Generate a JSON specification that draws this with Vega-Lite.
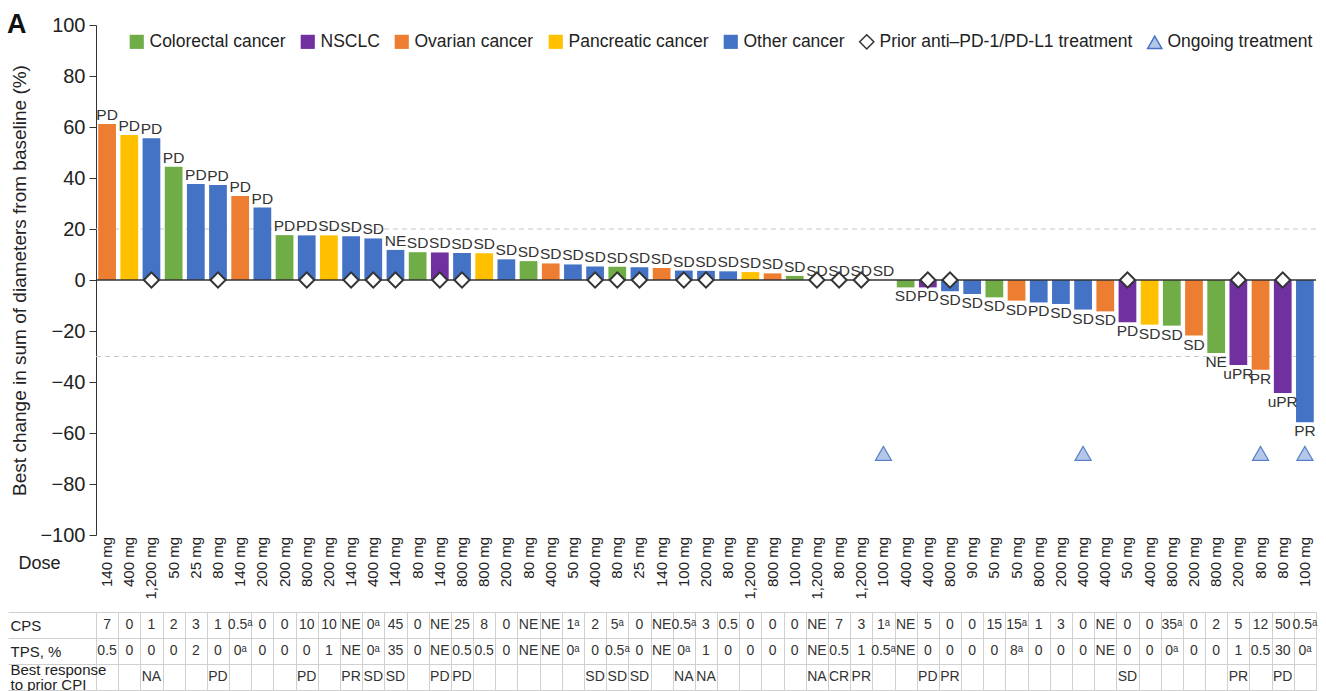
{
  "$schema": "https://vega.github.io/schema/vega-lite/v6.json",
  "padding": {"left": 7, "top": 11, "right": 4, "bottom": 0},
  "background": "white",
  "bounds": "flush",
  "spacing": 2,
  "title": {"text": "A", "anchor": "start", "frame": "bounds", "fontSize": 27, "fontWeight": "bold", "color": "#111", "offset": -24},
  "datasets": {
    "bars": [
      {"id": 1, "dose": "140 mg", "value": 61.2, "cancer": "Ovarian cancer", "resp": "PD", "prior": false, "ongoing": false, "CPS": "7", "TPS": "0.5", "CPI": ""},
      {"id": 2, "dose": "400 mg", "value": 56.9, "cancer": "Pancreatic cancer", "resp": "PD", "prior": false, "ongoing": false, "CPS": "0", "TPS": "0", "CPI": ""},
      {"id": 3, "dose": "1,200 mg", "value": 55.6, "cancer": "Other cancer", "resp": "PD", "prior": true, "ongoing": false, "CPS": "1", "TPS": "0", "CPI": "NA"},
      {"id": 4, "dose": "50 mg", "value": 44.4, "cancer": "Colorectal cancer", "resp": "PD", "prior": false, "ongoing": false, "CPS": "2", "TPS": "0", "CPI": ""},
      {"id": 5, "dose": "25 mg", "value": 37.6, "cancer": "Other cancer", "resp": "PD", "prior": false, "ongoing": false, "CPS": "3", "TPS": "2", "CPI": ""},
      {"id": 6, "dose": "80 mg", "value": 37.3, "cancer": "Other cancer", "resp": "PD", "prior": true, "ongoing": false, "CPS": "1", "TPS": "0", "CPI": "PD"},
      {"id": 7, "dose": "140 mg", "value": 32.9, "cancer": "Ovarian cancer", "resp": "PD", "prior": false, "ongoing": false, "CPS": "0.5ᵃ", "TPS": "0ᵃ", "CPI": ""},
      {"id": 8, "dose": "200 mg", "value": 28.4, "cancer": "Other cancer", "resp": "PD", "prior": false, "ongoing": false, "CPS": "0", "TPS": "0", "CPI": ""},
      {"id": 9, "dose": "200 mg", "value": 17.6, "cancer": "Colorectal cancer", "resp": "PD", "prior": false, "ongoing": false, "CPS": "0", "TPS": "0", "CPI": ""},
      {"id": 10, "dose": "800 mg", "value": 17.5, "cancer": "Other cancer", "resp": "PD", "prior": true, "ongoing": false, "CPS": "10", "TPS": "0", "CPI": "PD"},
      {"id": 11, "dose": "200 mg", "value": 17.5, "cancer": "Pancreatic cancer", "resp": "SD", "prior": false, "ongoing": false, "CPS": "10", "TPS": "1", "CPI": ""},
      {"id": 12, "dose": "140 mg", "value": 17.2, "cancer": "Other cancer", "resp": "SD", "prior": true, "ongoing": false, "CPS": "NE", "TPS": "NE", "CPI": "PR"},
      {"id": 13, "dose": "400 mg", "value": 16.3, "cancer": "Other cancer", "resp": "SD", "prior": true, "ongoing": false, "CPS": "0ᵃ", "TPS": "0ᵃ", "CPI": "SD"},
      {"id": 14, "dose": "140 mg", "value": 11.8, "cancer": "Other cancer", "resp": "NE", "prior": true, "ongoing": false, "CPS": "45", "TPS": "35", "CPI": "SD"},
      {"id": 15, "dose": "80 mg", "value": 10.9, "cancer": "Colorectal cancer", "resp": "SD", "prior": false, "ongoing": false, "CPS": "0", "TPS": "0", "CPI": ""},
      {"id": 16, "dose": "140 mg", "value": 10.8, "cancer": "NSCLC", "resp": "SD", "prior": true, "ongoing": false, "CPS": "NE", "TPS": "NE", "CPI": "PD"},
      {"id": 17, "dose": "800 mg", "value": 10.6, "cancer": "Other cancer", "resp": "SD", "prior": true, "ongoing": false, "CPS": "25", "TPS": "0.5", "CPI": "PD"},
      {"id": 18, "dose": "800 mg", "value": 10.5, "cancer": "Pancreatic cancer", "resp": "SD", "prior": false, "ongoing": false, "CPS": "8", "TPS": "0.5", "CPI": ""},
      {"id": 19, "dose": "200 mg", "value": 8.1, "cancer": "Other cancer", "resp": "SD", "prior": false, "ongoing": false, "CPS": "0", "TPS": "0", "CPI": ""},
      {"id": 20, "dose": "80 mg", "value": 7.4, "cancer": "Colorectal cancer", "resp": "SD", "prior": false, "ongoing": false, "CPS": "NE", "TPS": "NE", "CPI": ""},
      {"id": 21, "dose": "400 mg", "value": 6.5, "cancer": "Ovarian cancer", "resp": "SD", "prior": false, "ongoing": false, "CPS": "NE", "TPS": "NE", "CPI": ""},
      {"id": 22, "dose": "50 mg", "value": 6.1, "cancer": "Other cancer", "resp": "SD", "prior": false, "ongoing": false, "CPS": "1ᵃ", "TPS": "0ᵃ", "CPI": ""},
      {"id": 23, "dose": "400 mg", "value": 5.3, "cancer": "Other cancer", "resp": "SD", "prior": true, "ongoing": false, "CPS": "2", "TPS": "0", "CPI": "SD"},
      {"id": 24, "dose": "80 mg", "value": 5.2, "cancer": "Colorectal cancer", "resp": "SD", "prior": true, "ongoing": false, "CPS": "5ᵃ", "TPS": "0.5ᵃ", "CPI": "SD"},
      {"id": 25, "dose": "25 mg", "value": 5.0, "cancer": "Other cancer", "resp": "SD", "prior": true, "ongoing": false, "CPS": "0", "TPS": "0", "CPI": "SD"},
      {"id": 26, "dose": "140 mg", "value": 4.7, "cancer": "Ovarian cancer", "resp": "SD", "prior": false, "ongoing": false, "CPS": "NE", "TPS": "NE", "CPI": ""},
      {"id": 27, "dose": "100 mg", "value": 3.7, "cancer": "Other cancer", "resp": "SD", "prior": true, "ongoing": false, "CPS": "0.5ᵃ", "TPS": "0ᵃ", "CPI": "NA"},
      {"id": 28, "dose": "200 mg", "value": 3.6, "cancer": "Other cancer", "resp": "SD", "prior": true, "ongoing": false, "CPS": "3", "TPS": "1", "CPI": "NA"},
      {"id": 29, "dose": "80 mg", "value": 3.4, "cancer": "Other cancer", "resp": "SD", "prior": false, "ongoing": false, "CPS": "0.5", "TPS": "0", "CPI": ""},
      {"id": 30, "dose": "1,200 mg", "value": 3.1, "cancer": "Pancreatic cancer", "resp": "SD", "prior": false, "ongoing": false, "CPS": "0", "TPS": "0", "CPI": ""},
      {"id": 31, "dose": "800 mg", "value": 2.6, "cancer": "Ovarian cancer", "resp": "SD", "prior": false, "ongoing": false, "CPS": "0", "TPS": "0", "CPI": ""},
      {"id": 32, "dose": "100 mg", "value": 1.6, "cancer": "Colorectal cancer", "resp": "SD", "prior": false, "ongoing": false, "CPS": "0", "TPS": "0", "CPI": ""},
      {"id": 33, "dose": "1,200 mg", "value": 0, "cancer": "Other cancer", "resp": "SD", "prior": true, "ongoing": false, "CPS": "NE", "TPS": "NE", "CPI": "NA"},
      {"id": 34, "dose": "80 mg", "value": 0, "cancer": "Other cancer", "resp": "SD", "prior": true, "ongoing": false, "CPS": "7", "TPS": "0.5", "CPI": "CR"},
      {"id": 35, "dose": "1,200 mg", "value": 0, "cancer": "Other cancer", "resp": "SD", "prior": true, "ongoing": false, "CPS": "3", "TPS": "1", "CPI": "PR"},
      {"id": 36, "dose": "100 mg", "value": 0, "cancer": "Other cancer", "resp": "SD", "prior": false, "ongoing": true, "CPS": "1ᵃ", "TPS": "0.5ᵃ", "CPI": ""},
      {"id": 37, "dose": "400 mg", "value": -2.9, "cancer": "Colorectal cancer", "resp": "SD", "prior": false, "ongoing": false, "CPS": "NE", "TPS": "NE", "CPI": ""},
      {"id": 38, "dose": "400 mg", "value": -2.9, "cancer": "NSCLC", "resp": "PD", "prior": true, "ongoing": false, "CPS": "5", "TPS": "0", "CPI": "PD"},
      {"id": 39, "dose": "800 mg", "value": -4.4, "cancer": "Other cancer", "resp": "SD", "prior": true, "ongoing": false, "CPS": "0", "TPS": "0", "CPI": "PR"},
      {"id": 40, "dose": "90 mg", "value": -5.5, "cancer": "Other cancer", "resp": "SD", "prior": false, "ongoing": false, "CPS": "0", "TPS": "0", "CPI": ""},
      {"id": 41, "dose": "50 mg", "value": -6.8, "cancer": "Colorectal cancer", "resp": "SD", "prior": false, "ongoing": false, "CPS": "15", "TPS": "0", "CPI": ""},
      {"id": 42, "dose": "50 mg", "value": -8.1, "cancer": "Ovarian cancer", "resp": "SD", "prior": false, "ongoing": false, "CPS": "15ᵃ", "TPS": "8ᵃ", "CPI": ""},
      {"id": 43, "dose": "800 mg", "value": -8.8, "cancer": "Other cancer", "resp": "PD", "prior": false, "ongoing": false, "CPS": "1", "TPS": "0", "CPI": ""},
      {"id": 44, "dose": "200 mg", "value": -9.4, "cancer": "Other cancer", "resp": "SD", "prior": false, "ongoing": false, "CPS": "3", "TPS": "0", "CPI": ""},
      {"id": 45, "dose": "400 mg", "value": -11.6, "cancer": "Other cancer", "resp": "SD", "prior": false, "ongoing": true, "CPS": "0", "TPS": "0", "CPI": ""},
      {"id": 46, "dose": "400 mg", "value": -12.3, "cancer": "Ovarian cancer", "resp": "SD", "prior": false, "ongoing": false, "CPS": "NE", "TPS": "NE", "CPI": ""},
      {"id": 47, "dose": "50 mg", "value": -16.6, "cancer": "NSCLC", "resp": "PD", "prior": true, "ongoing": false, "CPS": "0", "TPS": "0", "CPI": "SD"},
      {"id": 48, "dose": "400 mg", "value": -17.5, "cancer": "Pancreatic cancer", "resp": "SD", "prior": false, "ongoing": false, "CPS": "0", "TPS": "0", "CPI": ""},
      {"id": 49, "dose": "800 mg", "value": -17.9, "cancer": "Colorectal cancer", "resp": "SD", "prior": false, "ongoing": false, "CPS": "35ᵃ", "TPS": "0ᵃ", "CPI": ""},
      {"id": 50, "dose": "200 mg", "value": -21.8, "cancer": "Ovarian cancer", "resp": "SD", "prior": false, "ongoing": false, "CPS": "0", "TPS": "0", "CPI": ""},
      {"id": 51, "dose": "800 mg", "value": -28.6, "cancer": "Colorectal cancer", "resp": "NE", "prior": false, "ongoing": false, "CPS": "2", "TPS": "0", "CPI": ""},
      {"id": 52, "dose": "200 mg", "value": -33.3, "cancer": "NSCLC", "resp": "uPR", "prior": true, "ongoing": false, "CPS": "5", "TPS": "1", "CPI": "PR"},
      {"id": 53, "dose": "80 mg", "value": -35.2, "cancer": "Ovarian cancer", "resp": "PR", "prior": false, "ongoing": true, "CPS": "12", "TPS": "0.5", "CPI": ""},
      {"id": 54, "dose": "80 mg", "value": -44.3, "cancer": "NSCLC", "resp": "uPR", "prior": true, "ongoing": false, "CPS": "50", "TPS": "30", "CPI": "PD"},
      {"id": 55, "dose": "100 mg", "value": -55.8, "cancer": "Other cancer", "resp": "PR", "prior": false, "ongoing": true, "CPS": "0.5ᵃ", "TPS": "0ᵃ", "CPI": ""}
    ]
  },
  "vconcat": [
    {
      "width": 1220,
      "height": 510,
      "data": {"name": "bars"},
      "layer": [
        {
          "data": {"values": [{"value": 20}, {"value": -30}]},
          "mark": {"type": "rule", "color": "#c8c8c8", "strokeDash": [5, 4], "strokeWidth": 1},
          "encoding": {"y": {"field": "value", "type": "quantitative"}}
        },
        {
          "mark": {"type": "bar"},
          "encoding": {
            "x": {"field": "id", "type": "ordinal", "scale": {"paddingInner": 0.2, "paddingOuter": 0.1}, "axis": null},
            "y": {
              "field": "value", "type": "quantitative",
              "scale": {"domain": [-100, 100], "nice": false},
              "axis": {
                "title": "Best change in sum of diameters from baseline (%)",
                "values": [-100, -90, -80, -70, -60, -50, -40, -30, -20, -10, 0, 10, 20, 30, 40, 50, 60, 70, 80, 90, 100],
                "labelExpr": "datum.value % 20 == 0 ? datum.label : ''",
                "labelFontSize": 20, "labelColor": "#222", "labelPadding": 4,
                "tickSize": 7, "tickColor": "#333", "domainColor": "#333", "grid": false,
                "titleFontSize": 19, "titleFontWeight": "normal", "titleColor": "#222", "titlePadding": 10
              }
            },
            "fill": {
              "field": "cancer", "type": "nominal",
              "scale": {
                "domain": ["Colorectal cancer", "NSCLC", "Ovarian cancer", "Pancreatic cancer", "Other cancer", "Prior anti–PD-1/PD-L1 treatment", "Ongoing treatment"],
                "range": ["#70ad47", "#7030a0", "#ed7d31", "#ffc000", "#4472c4", "#ffffff", "#b4c7e7"]
              },
              "legend": {
                "orient": "none", "legendX": 32, "legendY": 8, "direction": "horizontal", "title": null,
                "labelFontSize": 17.5, "labelColor": "#222", "labelLimit": 500, "symbolSize": 200, "columnPadding": 11, "labelOffset": 4, "padding": 0,
                "symbolType": "square", "symbolOpacity": 1,
                "encode": {
                  "symbols": {
                    "update": {
                      "shape": {"signal": "indexof(datum.value, 'Prior') == 0 ? 'diamond' : datum.value == 'Ongoing treatment' ? 'triangle-up' : 'square'"},
                      "stroke": {"signal": "indexof(datum.value, 'Prior') == 0 ? '#333333' : datum.value == 'Ongoing treatment' ? '#4472c4' : 'transparent'"},
                      "strokeWidth": {"value": 1.5}
                    }
                  }
                }
              }
            }
          }
        },
        {
          "data": {"values": [{"value": 0}]},
          "mark": {"type": "rule", "color": "#333", "strokeWidth": 1.5},
          "encoding": {"y": {"field": "value", "type": "quantitative"}}
        },
        {
          "transform": [{"filter": "datum.value >= 0"}],
          "mark": {"type": "text", "baseline": "bottom", "dy": -1, "fontSize": 15.5, "color": "#333"},
          "encoding": {
            "x": {"field": "id", "type": "ordinal"},
            "y": {"field": "value", "type": "quantitative"},
            "text": {"field": "resp"}
          }
        },
        {
          "transform": [{"filter": "datum.value < 0"}],
          "mark": {"type": "text", "baseline": "top", "dy": 2, "fontSize": 15.5, "color": "#333"},
          "encoding": {
            "x": {"field": "id", "type": "ordinal"},
            "y": {"field": "value", "type": "quantitative"},
            "text": {"field": "resp"}
          }
        },
        {
          "transform": [{"filter": "datum.prior"}],
          "mark": {"type": "point", "shape": "diamond", "filled": true, "fill": "white", "stroke": "#333", "strokeWidth": 2, "size": 230, "opacity": 1},
          "encoding": {
            "x": {"field": "id", "type": "ordinal"},
            "y": {"datum": 0, "type": "quantitative"}
          }
        },
        {
          "transform": [{"filter": "datum.ongoing"}],
          "mark": {"type": "point", "shape": "triangle-up", "filled": true, "fill": "#b4c7e7", "stroke": "#5b80cc", "strokeWidth": 1.2, "size": 260, "opacity": 1},
          "encoding": {
            "x": {"field": "id", "type": "ordinal"},
            "y": {"datum": -68, "type": "quantitative"}
          }
        }
      ]
    },
    {
      "width": 1220,
      "height": 73,
      "data": {"name": "bars"},
      "mark": {"type": "text", "angle": 270, "align": "right", "baseline": "middle", "fontSize": 15, "color": "#222"},
      "encoding": {
        "x": {"field": "id", "type": "ordinal", "scale": {"type": "band", "paddingInner": 0, "paddingOuter": 0}, "axis": null},
        "y": {
          "datum": 1, "type": "quantitative", "scale": {"domain": [0, 1]},
          "axis": {"title": "Dose", "titleAngle": 0, "titleAlign": "left", "titleBaseline": "middle", "titleX": -78, "titleY": 26, "titleFontSize": 18, "titleFontWeight": "normal", "titleColor": "#222", "labels": false, "ticks": false, "domain": false, "grid": false}
        },
        "text": {"field": "dose"}
      }
    },
    {
      "width": 1220,
      "height": 78,
      "data": {"name": "bars"},
      "view": {"stroke": "#d0d0d0"},
      "transform": [{"fold": ["CPS", "TPS", "CPI"], "as": ["row", "val"]}],
      "layer": [
        {
          "mark": {"type": "text", "fontSize": 14, "color": "#333"},
          "encoding": {
            "x": {
              "field": "id", "type": "ordinal", "scale": {"type": "band", "paddingInner": 0, "paddingOuter": 0},
              "axis": {"grid": true, "tickBand": "extent", "labels": false, "ticks": false, "domain": false, "title": null, "gridColor": "#d0d0d0"}
            },
            "y": {
              "field": "row", "type": "nominal", "sort": ["CPS", "TPS", "CPI"],
              "scale": {"type": "band", "paddingInner": 0, "paddingOuter": 0},
              "axis": {
                "grid": true, "tickBand": "extent", "ticks": true, "tickSize": 88, "tickColor": "#d0d0d0", "gridColor": "#d0d0d0",
                "domain": false, "title": null, "labelAlign": "left", "labelPadding": -2, "labelFontSize": 15, "labelColor": "#222", "labelLimit": 200,
                "labelExpr": "datum.value == 'TPS' ? 'TPS, %' : datum.value == 'CPS' ? 'CPS' : ''"
              }
            },
            "text": {"field": "val"}
          }
        },
        {
          "mark": {"type": "text", "opacity": 0, "text": " "},
          "encoding": {
            "y": {
              "field": "row", "type": "nominal", "sort": ["CPS", "TPS", "CPI"],
              "axis": {
                "orient": "left", "grid": false, "tickBand": "extent", "ticks": true, "tickSize": 88, "tickOpacity": 0,
                "domain": false, "title": null, "labelAlign": "left", "labelPadding": -10, "labelFontSize": 15, "labelColor": "#222", "labelLimit": 200, "labelLineHeight": 15,
                "translate": -7.5,
                "labelExpr": "datum.value == 'CPI' ? ['Best response', 'to prior CPI'] : ''"
              }
            }
          }
        }
      ],
      "resolve": {"axis": {"y": "independent"}}
    }
  ],
  "resolve": {"scale": {"fill": "independent"}, "legend": {"fill": "independent"}},
  "config": {
    "view": {"stroke": null},
    "font": "Liberation Sans",
    "axis": {"labelFont": "Liberation Sans", "titleFont": "Liberation Sans"},
    "legend": {"labelFont": "Liberation Sans"},
    "text": {"font": "Liberation Sans"},
    "title": {"font": "Liberation Sans"}
  }
}
